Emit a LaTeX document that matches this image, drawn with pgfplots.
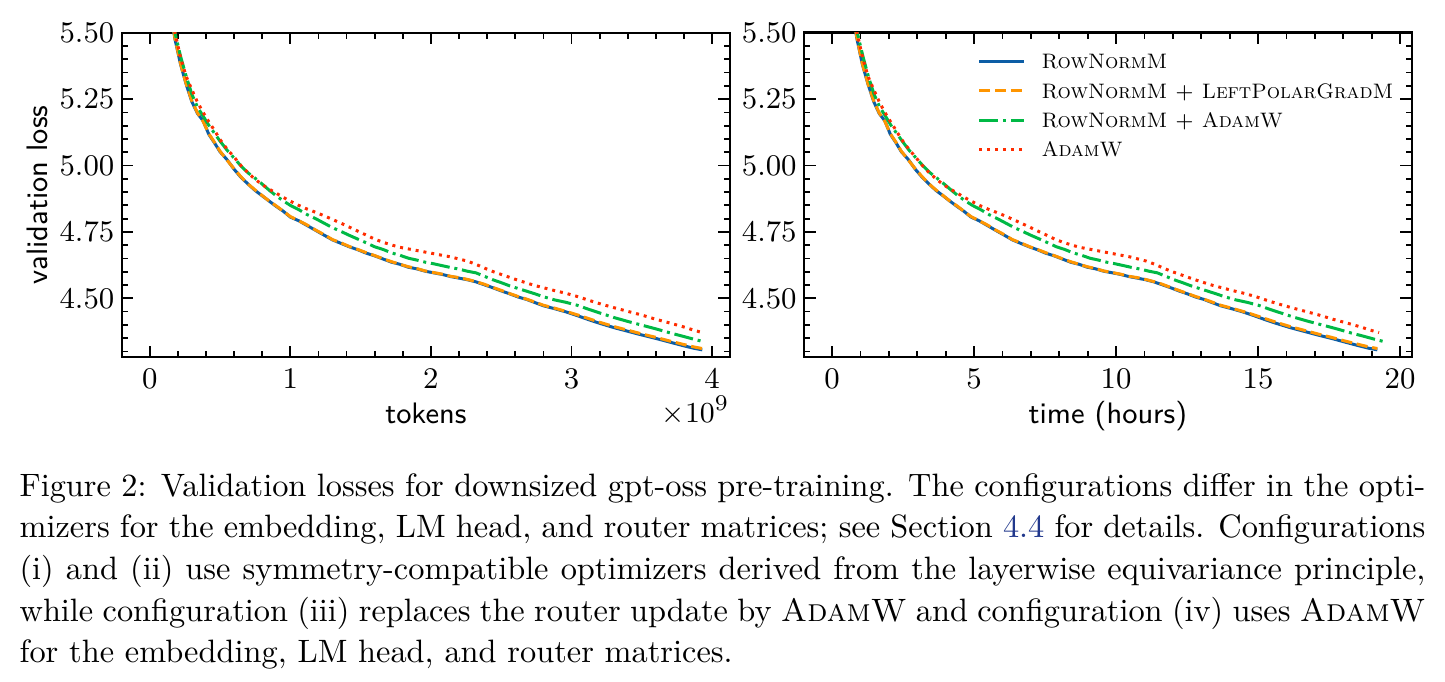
\documentclass[border=0pt]{standalone}
\usepackage{pgfplots}
\usepackage{pgfplotstable}
\pgfplotsset{compat=1.18}

\definecolor{sciblue}{HTML}{0C5DA5}
\definecolor{sciorange}{HTML}{FF9500}
\definecolor{scigreen}{HTML}{00B945}
\definecolor{scired}{HTML}{FF2C00}
\definecolor{linkblue}{rgb}{0.13,0.22,0.55}

% columns: tokens (1e9), wall-clock hours, validation loss
\pgfplotstableread{
tok hrs loss
0.00 0.00 7.60
0.06 0.29 6.20
0.10 0.49 5.80
0.14 0.68 5.600
0.18 0.88 5.475
0.22 1.07 5.380
0.26 1.27 5.305
0.30 1.47 5.240
0.34 1.66 5.196
0.38 1.86 5.168
0.42 2.05 5.118
0.46 2.25 5.086
0.50 2.44 5.052
0.55 2.69 5.022
0.60 2.93 4.986
0.65 3.18 4.955
0.70 3.42 4.930
0.75 3.66 4.906
0.80 3.91 4.886
0.85 4.15 4.866
0.90 4.40 4.846
0.95 4.64 4.828
1.00 4.89 4.806
1.06 5.18 4.792
1.12 5.47 4.774
1.18 5.76 4.756
1.24 6.06 4.738
1.30 6.35 4.720
1.36 6.64 4.707
1.42 6.94 4.694
1.48 7.23 4.683
1.54 7.52 4.670
1.60 7.82 4.660
1.66 8.11 4.648
1.72 8.40 4.636
1.78 8.70 4.628
1.84 8.99 4.617
1.90 9.28 4.611
1.96 9.57 4.602
2.02 9.87 4.596
2.08 10.16 4.590
2.14 10.45 4.582
2.20 10.75 4.576
2.26 11.04 4.570
2.32 11.33 4.562
2.38 11.63 4.551
2.44 11.92 4.540
2.50 12.21 4.528
2.56 12.51 4.517
2.62 12.80 4.505
2.68 13.09 4.496
2.74 13.38 4.484
2.80 13.68 4.472
2.88 14.07 4.461
2.96 14.46 4.449
3.04 14.85 4.435
3.12 15.24 4.420
3.20 15.63 4.406
3.30 16.12 4.390
3.40 16.61 4.376
3.50 17.10 4.362
3.60 17.59 4.349
3.70 18.07 4.335
3.80 18.56 4.321
3.87 18.90 4.312
3.93 19.20 4.306
}\rownorm

\pgfplotstableread{
tok hrs loss
0.00 0.00 7.60
0.06 0.29 6.20
0.10 0.49 5.80
0.14 0.68 5.605
0.18 0.88 5.478
0.22 1.07 5.382
0.26 1.27 5.306
0.30 1.47 5.243
0.34 1.66 5.198
0.38 1.86 5.166
0.42 2.05 5.120
0.46 2.25 5.088
0.50 2.44 5.054
0.55 2.69 5.020
0.60 2.93 4.988
0.65 3.18 4.957
0.70 3.42 4.930
0.75 3.66 4.908
0.80 3.91 4.887
0.85 4.15 4.866
0.90 4.40 4.848
0.95 4.64 4.828
1.00 4.89 4.808
1.06 5.18 4.792
1.12 5.47 4.776
1.18 5.76 4.757
1.24 6.06 4.740
1.30 6.35 4.721
1.36 6.64 4.709
1.42 6.94 4.695
1.48 7.23 4.684
1.54 7.52 4.672
1.60 7.82 4.661
1.66 8.11 4.649
1.72 8.40 4.638
1.78 8.70 4.628
1.84 8.99 4.619
1.90 9.28 4.612
1.96 9.57 4.603
2.02 9.87 4.597
2.08 10.16 4.591
2.14 10.45 4.583
2.20 10.75 4.578
2.26 11.04 4.571
2.32 11.33 4.563
2.38 11.63 4.553
2.44 11.92 4.541
2.50 12.21 4.530
2.56 12.51 4.518
2.62 12.80 4.507
2.68 13.09 4.497
2.74 13.38 4.486
2.80 13.68 4.474
2.88 14.07 4.463
2.96 14.46 4.451
3.04 14.85 4.438
3.12 15.24 4.424
3.20 15.63 4.410
3.30 16.12 4.394
3.40 16.61 4.380
3.50 17.10 4.366
3.60 17.59 4.353
3.70 18.07 4.339
3.80 18.56 4.326
3.87 18.90 4.317
3.93 19.20 4.311
}\rownormlpg

\pgfplotstableread{
tok hrs loss
0.00 0.00 7.70
0.06 0.30 6.30
0.10 0.49 5.86
0.14 0.69 5.640
0.18 0.89 5.500
0.22 1.09 5.410
0.26 1.28 5.335
0.30 1.48 5.268
0.34 1.68 5.220
0.38 1.88 5.186
0.42 2.07 5.152
0.46 2.27 5.122
0.50 2.47 5.092
0.55 2.71 5.058
0.60 2.96 5.028
0.65 3.21 4.998
0.70 3.46 4.972
0.75 3.70 4.952
0.80 3.95 4.930
0.85 4.20 4.907
0.90 4.44 4.886
0.95 4.69 4.867
1.00 4.94 4.850
1.06 5.23 4.834
1.12 5.53 4.815
1.18 5.82 4.800
1.24 6.12 4.783
1.30 6.42 4.766
1.36 6.71 4.752
1.42 7.01 4.737
1.48 7.31 4.723
1.54 7.60 4.709
1.60 7.90 4.694
1.66 8.19 4.684
1.72 8.49 4.671
1.78 8.79 4.662
1.84 9.08 4.651
1.90 9.38 4.644
1.96 9.67 4.636
2.02 9.97 4.630
2.08 10.27 4.623
2.14 10.56 4.616
2.20 10.86 4.610
2.26 11.16 4.602
2.32 11.45 4.596
2.38 11.75 4.583
2.44 12.04 4.570
2.50 12.34 4.559
2.56 12.64 4.547
2.62 12.93 4.537
2.68 13.23 4.527
2.74 13.52 4.517
2.80 13.82 4.506
2.88 14.22 4.494
2.96 14.61 4.485
3.04 15.01 4.474
3.12 15.40 4.459
3.20 15.80 4.445
3.30 16.29 4.428
3.40 16.78 4.413
3.50 17.28 4.399
3.60 17.77 4.385
3.70 18.26 4.370
3.80 18.76 4.356
3.87 19.10 4.346
3.93 19.40 4.338
}\rownormadam

\pgfplotstableread{
tok hrs loss
0.00 0.00 7.80
0.06 0.29 6.35
0.10 0.49 5.88
0.14 0.69 5.650
0.18 0.88 5.500
0.22 1.08 5.405
0.26 1.27 5.335
0.30 1.47 5.285
0.34 1.67 5.238
0.38 1.86 5.200
0.42 2.06 5.165
0.46 2.25 5.133
0.50 2.45 5.098
0.55 2.70 5.062
0.60 2.94 5.032
0.65 3.19 4.999
0.70 3.43 4.972
0.75 3.68 4.948
0.80 3.92 4.928
0.85 4.17 4.911
0.90 4.41 4.896
0.95 4.66 4.880
1.00 4.90 4.866
1.06 5.19 4.850
1.12 5.49 4.836
1.18 5.78 4.824
1.24 6.08 4.811
1.30 6.37 4.797
1.36 6.66 4.783
1.42 6.96 4.768
1.48 7.25 4.753
1.54 7.55 4.738
1.60 7.84 4.723
1.66 8.13 4.711
1.72 8.43 4.701
1.78 8.72 4.692
1.84 9.02 4.686
1.90 9.31 4.680
1.96 9.60 4.674
2.02 9.90 4.668
2.08 10.19 4.662
2.14 10.49 4.656
2.20 10.78 4.648
2.26 11.07 4.640
2.32 11.37 4.628
2.38 11.66 4.614
2.44 11.96 4.601
2.50 12.25 4.590
2.56 12.54 4.579
2.62 12.84 4.568
2.68 13.13 4.558
2.74 13.43 4.548
2.80 13.72 4.540
2.88 14.11 4.529
2.96 14.50 4.519
3.04 14.90 4.507
3.12 15.29 4.493
3.20 15.68 4.480
3.30 16.17 4.465
3.40 16.66 4.451
3.50 17.15 4.437
3.60 17.64 4.421
3.70 18.13 4.407
3.80 18.62 4.392
3.87 18.96 4.380
3.93 19.26 4.371
}\adamw

\pgfplotsset{
  lossaxis/.style={
    scale only axis,
    height=100.8pt,
    ymin=4.278, ymax=5.5,
    ytick={4.5,4.75,5,5.25,5.5},
    minor ytick={4.30,4.35,4.40,4.45,4.55,4.60,4.65,4.70,4.80,4.85,4.90,4.95,5.05,5.10,5.15,5.20,5.30,5.35,5.40,5.45},
    tick align=inside,
    tick pos=both,
    major tick length=3.6pt,
    minor tick length=1.9pt,
    every tick/.style={black, line width=0.55pt},
    axis line style={line width=0.75pt},
    /pgf/number format/assume math mode=true,
    tick label style={font=\fontsize{9.3}{11}\selectfont},
    yticklabel style={inner sep=0pt, xshift=-2.1pt,
      /pgf/number format/.cd, fixed, fixed zerofill, precision=2},
    label style={font=\sffamily\fontsize{9.2}{11}\selectfont},
    xlabel style={at={(axis description cs:0.5,0)}, anchor=base, yshift=-20.7pt},
    clip mode=individual,
  },
  rn/.style={sciblue, line width=0.93pt},
  rnlpg/.style={sciorange, line width=0.93pt, dash pattern=on 3.44pt off 1.49pt},
  rnadam/.style={scigreen, line width=0.93pt, dash pattern=on 5.95pt off 1.49pt on 0.93pt off 1.49pt},
  adam/.style={scired, line width=0.93pt, dash pattern=on 0.93pt off 1.53pt},
}

\begin{document}
\begin{tikzpicture}
\useasboundingbox (0,0) rectangle (448.76pt,211.49pt);

% validation loss against tokens
\begin{axis}[
  lossaxis,
  at={(37.8pt,100.53pt)}, anchor=south west,
  width=188.9pt,
  xmin=-0.199, xmax=4.127,
  xtick={0,1,2,3,4},
  minor xtick={0.2,0.4,0.6,0.8,1.2,1.4,1.6,1.8,2.2,2.4,2.6,2.8,3.2,3.4,3.6,3.8},
  xlabel={tokens},
  ylabel={validation loss},
]
\addplot[rn] table[x=tok, y=loss] {\rownorm};
\addplot[rnlpg] table[x=tok, y=loss] {\rownormlpg};
\addplot[rnadam] table[x=tok, y=loss] {\rownormadam};
\addplot[adam] table[x=tok, y=loss] {\adamw};
\node[anchor=base east, inner sep=0pt, font=\fontsize{9.3}{11}\selectfont]
  at (rel axis cs:1,0) [yshift=-20.4pt] {$\times10^{9}$};
\end{axis}

% validation loss against wall-clock time
\begin{axis}[
  lossaxis,
  at={(249.69pt,100.53pt)}, anchor=south west,
  width=188.73pt,
  xmin=-0.987, xmax=20.41,
  xtick={0,5,10,15,20},
  minor xtick={1,2,3,4,6,7,8,9,11,12,13,14,16,17,18,19},
  xlabel={time (hours)},
  legend cell align=left,
  legend image code/.code={\draw[#1] (0pt,0pt) -- (14pt,0pt); \path (18.9pt,0pt);},
  legend style={draw=none, fill=none, at={(0.2847,0.9375)}, anchor=north west,
    inner sep=0pt, row sep=4.1pt, font=\fontsize{6.5}{8}\selectfont,
    nodes={inner sep=0pt, text height=4.7pt, text depth=0.3pt}},
]
\addplot[rn] table[x=hrs, y=loss] {\rownorm};
\addlegendentry{\textsc{RowNormM}}
\addplot[rnlpg] table[x=hrs, y=loss] {\rownormlpg};
\addlegendentry{\textsc{RowNormM} + \textsc{LeftPolarGradM}}
\addplot[rnadam] table[x=hrs, y=loss] {\rownormadam};
\addlegendentry{\textsc{RowNormM} + \textsc{AdamW}}
\addplot[adam] table[x=hrs, y=loss] {\adamw};
\addlegendentry{\textsc{AdamW}}
\end{axis}

% caption
\node[anchor=base west, inner sep=0pt, text width=436.6pt, align=justify,
      font=\fontsize{10.05}{12.95}\selectfont]
  at (5.9pt,57.45pt) {\tolerance=9000
  Figure 2: Validation losses for downsized gpt-oss pre-training. The configurations differ in the opti-\linebreak
  mizers for the embedding, LM head, and router matrices; see Section \textcolor{linkblue}{4.4} for details. Configurations\linebreak
  (i) and (ii) use symmetry-compatible optimizers derived from the layerwise equivariance principle,\linebreak
  while configuration (iii) replaces the router update by \textsc{AdamW} and configuration (iv) uses \textsc{AdamW}\linebreak
  for the embedding, LM head, and router matrices.};
\end{tikzpicture}
\end{document}
